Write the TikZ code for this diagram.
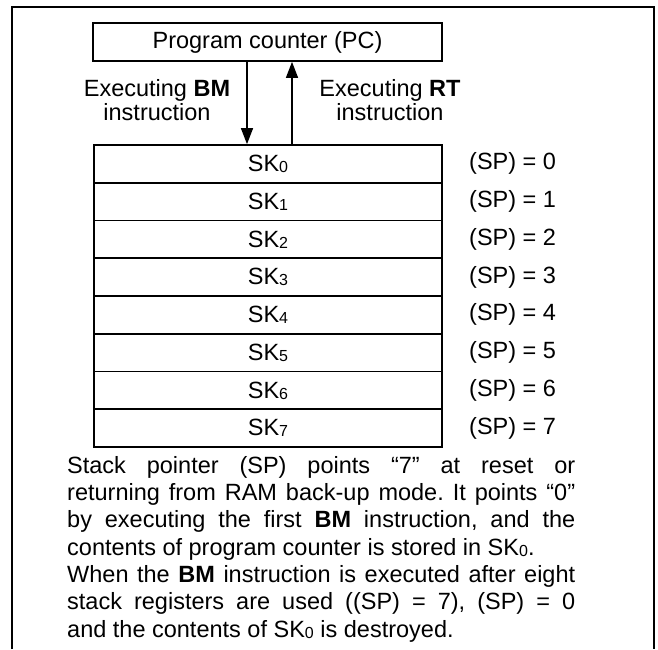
\documentclass[tikz,border=0pt]{standalone}
\usepackage{fontspec}
\setmainfont{Liberation Sans}
\usetikzlibrary{arrows.meta}
\newcommand{\sub}[1]{{\fontsize{16}{16}\selectfont\raisebox{-1pt}{#1}}}
\frenchspacing
\begin{document}
\begin{tikzpicture}[x=1pt,y=-1pt,
  every node/.style={font=\fontsize{23.5}{25}\selectfont, inner sep=0pt},
  box/.style={draw, line width=1.7pt, minimum width=348pt, minimum height=37.75pt},
  lbl/.style={anchor=west},
  arr/.style={line width=1.3pt, -{Triangle[width=12pt,length=16pt]}}]
\useasboundingbox (0,0) rectangle (658,649);
% outer frame (open at bottom)
\draw[line width=2.2pt] (12,649) -- (12,7) -- (654,7) -- (654,649);
% program counter
\node[box, minimum width=349pt, minimum height=38pt] (pc) at (267.5,42) {Program counter (PC)};
% stack
\foreach \i in {0,...,7}{
  \node[box] (sk\i) at (268,{145+37.75*(\i+0.5)}) {SK\sub{\i}};
  \node[lbl] (sp\i) at (469,{145+37.75*(\i+0.5)}) {(SP) = \i};
}
% arrows
\coordinate (dtop) at (247,42);
\coordinate (utop) at (292,42);
\draw[arr] (pc.south -| dtop) -- (sk0.north -| dtop);
\draw[arr] (sk0.north -| utop) -- (pc.south -| utop);
% labels
\node[align=center] (bm) at (157,100) {Executing \textbf{BM}\\[-0.5pt]instruction};
\node[align=center] (rt) at (390,100) {Executing \textbf{RT}\\[-0.5pt]instruction};
% paragraph
\node[anchor=north west, text width=508pt, align=justify,
      font=\fontsize{23.5}{27.3}\selectfont] (para) at (67,456)
{Stack pointer (SP) points “7” at reset or\linebreak
returning from RAM back-up mode. It points “0”\linebreak
by executing the first \textbf{BM} instruction, and the\linebreak
contents of program counter is stored in SK\sub{0}.\par
When the \textbf{BM} instruction is executed after eight\linebreak
stack registers are used ((SP) = 7), (SP) = 0\linebreak
and the contents of SK\sub{0} is destroyed.};
\end{tikzpicture}
\end{document}
